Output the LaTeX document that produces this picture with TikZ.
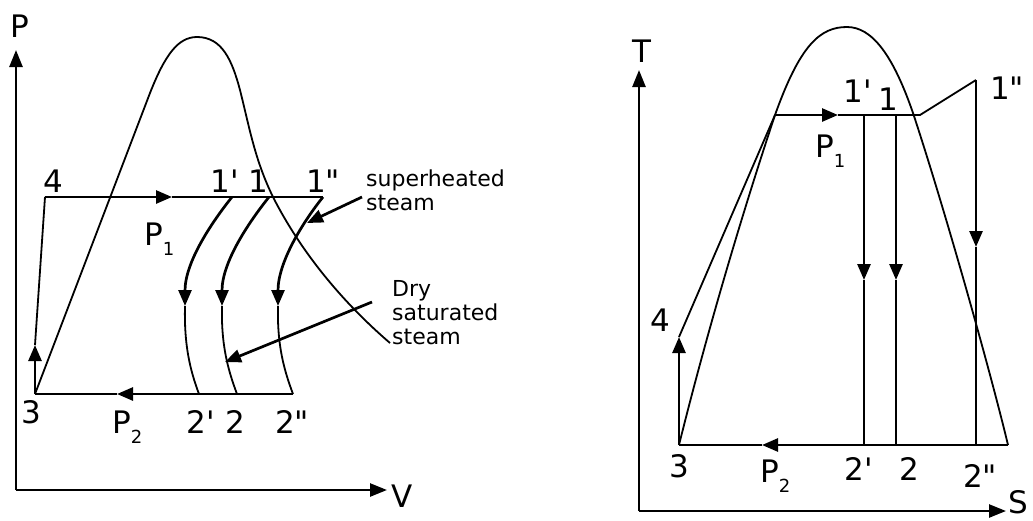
\documentclass[tikz,border=0pt]{standalone}
\usepackage{fontspec}
\setmainfont{DejaVu Sans}[Ligatures=TeXOff]
\usetikzlibrary{arrows.meta}
\newcommand\mysub[1]{\raisebox{-10pt}{\fontsize{18}{18}\selectfont #1}}
\begin{document}
\begin{tikzpicture}[x=1pt,y=-1pt,
  thinl/.style={line width=1.8pt},
  thickl/.style={line width=2.7pt},
  axisl/.style={line width=2.5pt,-{Triangle[length=17pt,width=13pt]}},
  tipl/.style={line width=2.7pt,-{Triangle[length=16pt,width=13pt]}},
  lbl/.style={font=\fontsize{31}{31}\selectfont, inner sep=0pt, anchor=base},
  plbl/.style={font=\fontsize{31}{31}\selectfont, inner sep=0pt, anchor=base west},
  note/.style={font=\fontsize{22}{24}\selectfont, inner sep=0pt, anchor=north west, align=left}]
\useasboundingbox (0,0) rectangle (1033,520);

% ---------------- P-V diagram ----------------
\coordinate (O1) at (16,490);
\coordinate (Ptip) at (16,50);
\coordinate (Vtip) at (387,490);
\draw[axisl] (O1) -- (Ptip);
\draw[axisl] (O1) -- (Vtip);

\coordinate (L3) at (35,394);
\coordinate (L4) at (45,197);
\coordinate (L4a) at (35,345);
\coordinate (L1a) at (172,197);
\coordinate (L1p) at (232,197);
\coordinate (L1) at (269,197);
\coordinate (L1pp) at (323,197);
\coordinate (L2p) at (199,394);
\coordinate (L2) at (237,394);
\coordinate (L2pp) at (293,394);
\coordinate (L2a) at (117,394);
\coordinate (A1p) at (185,306);
\coordinate (A1) at (222,306);
\coordinate (A1pp) at (278,306);

% saturation dome
\draw[thinl] (L3) -- (150,93) .. controls (165,55) and (178,37) .. (197,37)
  .. controls (222,37) and (232,60) .. (240,90)
  .. controls (250,130) and (255,160) .. (273,197)
  .. controls (300,250) and (340,300) .. (390,343);

% pump 3-4
\draw[tipl] (L3) -- (L4a);
\draw[thinl] (L4a) -- (L4);
% heat addition
\draw[tipl] (L4) -- (L1a);
\draw[thinl] (L1a) -- (L1pp);
% heat rejection
\draw[tipl] (L2pp) -- (L2a);
\draw[thinl] (L2a) -- (L3);

% expansions
\draw[tipl] (L1p) .. controls (212,222) and (185,262) .. (A1p);
\draw[thinl] (A1p) .. controls (184,345) and (190,370) .. (L2p);
\draw[tipl] (L1) .. controls (249,222) and (222,262) .. (A1);
\draw[thinl] (A1) .. controls (221,345) and (228,370) .. (L2);
\draw[tipl] (L1pp) .. controls (303,222) and (278,262) .. (A1pp);
\draw[thinl] (A1pp) .. controls (277,345) and (284,370) .. (L2pp);

% annotations
\node[note] (sup) at (366,170) {superheated\\steam};
\node[note] (dry) at (392,280) {Dry\\saturated\\steam};
\coordinate (supS) at (362,197);
\coordinate (supE) at (307,223);
\coordinate (dryS) at (372,302);
\coordinate (dryE) at (225,362);
\draw[tipl] (supS) -- (supE);
\draw[tipl] (dryS) -- (dryE);

% labels
\node[lbl] (tP) at (19.5,37) {P};
\node[lbl] (tV) at (402,507) {V};
\node[lbl] (t4) at (53,192) {4};
\node[lbl] (t1p) at (225,192) {1'};
\node[lbl] (t1) at (258,192) {1};
\node[lbl] (t1pp) at (323,192) {1"};
\node[plbl] (tP1) at (144,245) {P\mysub{1}};
\node[lbl] (t3) at (31,423) {3};
\node[plbl] (tP2) at (112,433) {P\mysub{2}};
\node[lbl] (t2p) at (201,433) {2'};
\node[lbl] (t2) at (235,433) {2};
\node[lbl] (t2pp) at (292,433) {2"};

% ---------------- T-S diagram ----------------
\coordinate (O2) at (639,511);
\coordinate (Ttip) at (639,70);
\coordinate (Stip) at (1006,511);
\draw[axisl] (O2) -- (Ttip);
\draw[axisl] (O2) -- (Stip);

\coordinate (R3) at (679,445);
\coordinate (R4) at (679,337);
\coordinate (RA) at (775,115);
\coordinate (R1a) at (838,115);
\coordinate (R1p) at (864,115);
\coordinate (R1) at (896,115);
\coordinate (RB) at (920,115);
\coordinate (R1pp) at (976,80);
\coordinate (R2p) at (864,445);
\coordinate (R2) at (896,445);
\coordinate (R2pp) at (976,445);
\coordinate (RC) at (1008,445);
\coordinate (R2a) at (762,445);
\coordinate (B1p) at (864,280);
\coordinate (B1) at (896,280);
\coordinate (B1pp) at (976,247);

% dome
\draw[thinl] (R3) .. controls (705,340) and (740,220) .. (RA)
  .. controls (800,45) and (820,27) .. (847,27)
  .. controls (872,27) and (893,55) .. (913,113)
  .. controls (945,210) and (990,370) .. (RC);

\draw[tipl] (R3) -- (R4);
\draw[thinl] (R4) -- (RA);
\draw[tipl] (RA) -- (R1a);
\draw[thinl] (R1a) -- (RB) -- (R1pp);
\draw[tipl] (R1pp) -- (B1pp);
\draw[thinl] (B1pp) -- (R2pp);
\draw[tipl] (R1p) -- (B1p);
\draw[thinl] (B1p) -- (R2p);
\draw[tipl] (R1) -- (B1);
\draw[thinl] (B1) -- (R2);
\draw[tipl] (RC) -- (R2a);
\draw[thinl] (R2a) -- (R3);

% labels
\node[lbl] (rT) at (642,62) {T};
\node[lbl] (rS) at (1018,513) {S};
\node[lbl] (r1p) at (858,102) {1'};
\node[lbl] (r1) at (888,110) {1};
\node[lbl] (r1pp) at (1007,99) {1"};
\node[plbl] (rP1) at (815,157) {P\mysub{1}};
\node[lbl] (r4) at (660,331) {4};
\node[lbl] (r3) at (679,477) {3};
\node[plbl] (rP2) at (760,482) {P\mysub{2}};
\node[lbl] (r2p) at (859,480) {2'};
\node[lbl] (r2) at (909,480) {2};
\node[lbl] (r2pp) at (980,487) {2"};
\end{tikzpicture}
\end{document}
